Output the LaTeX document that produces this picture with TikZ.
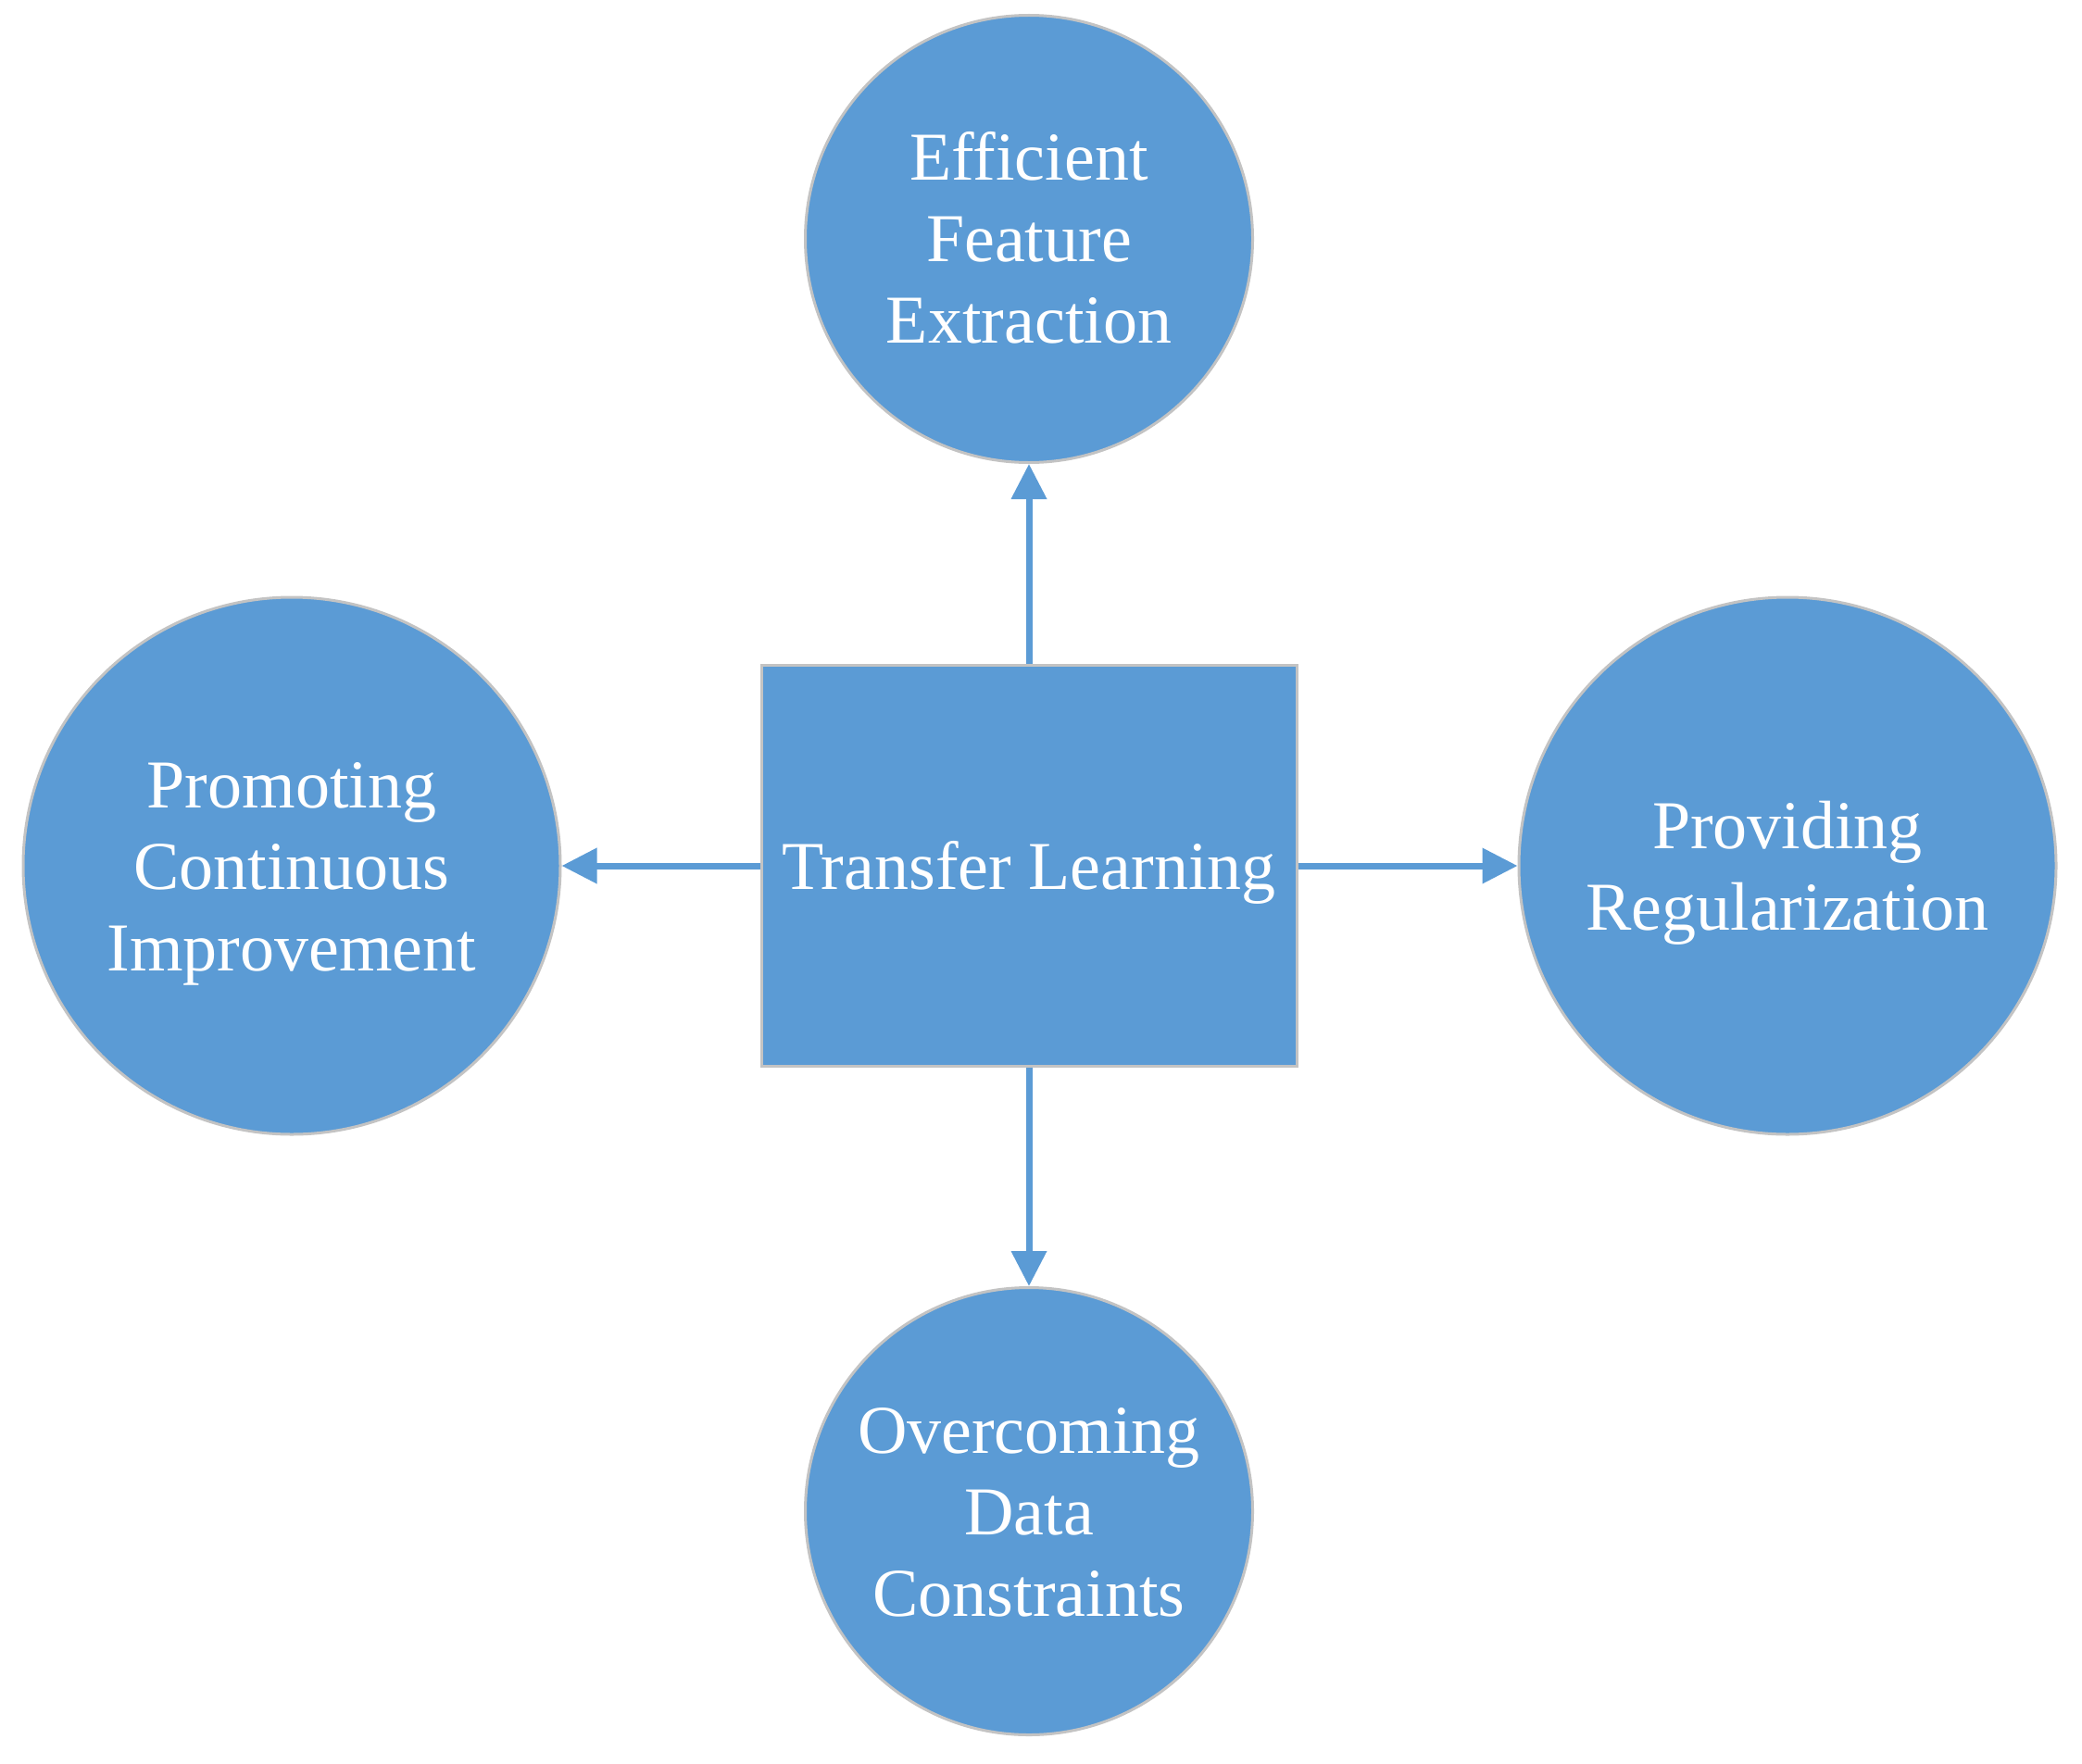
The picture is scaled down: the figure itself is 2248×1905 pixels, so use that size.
\documentclass[tikz,border=0pt]{standalone}
\usepackage{fontspec}
\setmainfont{Liberation Serif}
\usetikzlibrary{arrows.meta}
\definecolor{nodeblue}{HTML}{5B9BD5}
\definecolor{rimgray}{HTML}{C3C3C3}
\newcommand\linestack[1]{\vtop{\halign{\hfil##\hfil\cr#1\crcr}}}
\tikzset{
  base/.style={fill=nodeblue, draw=rimgray, line width=3pt, text=white, inner sep=0pt,
    font=\fontsize{74}{88}\selectfont, text height=68pt, text depth=18pt},
  oneline/.style={text depth=18pt},
  twolines/.style={text depth=106pt},
  threelines/.style={text depth=194pt},
  bubble/.style={base, circle},
  smallbubble/.style={bubble, minimum size=483pt},
  bigbubble/.style={bubble, minimum size=580pt},
  hub/.style={base, rectangle, minimum width=578pt, minimum height=433pt},
  link/.style={draw=nodeblue, line width=7pt, -{Triangle[length=38pt,width=37pt]}}
}
\begin{document}
\begin{tikzpicture}[x=1pt,y=-1pt]
\path[use as bounding box] (0,0) rectangle (2248,1905);
\node[hub, oneline] (tl) at (1111,935) {\linestack{Transfer Learning}};
\node[smallbubble, threelines] (top) at (1111,258) {\linestack{Efficient\cr Feature\cr Extraction}};
\node[smallbubble, threelines] (bot) at (1111,1632) {\linestack{Overcoming\cr Data\cr Constraints}};
\node[bigbubble, threelines] (left) at (315,935) {\linestack{Promoting\cr Continuous\cr Improvement}};
\node[bigbubble, twolines] (right) at (1930,935) {\linestack{Providing\cr Regularization}};
\draw[link] (tl.north) -- (top.south);
\draw[link] (tl.south) -- (bot.north);
\draw[link] (tl.west) -- (left.east);
\draw[link] (tl.east) -- (right.west);
\end{tikzpicture}
\end{document}
